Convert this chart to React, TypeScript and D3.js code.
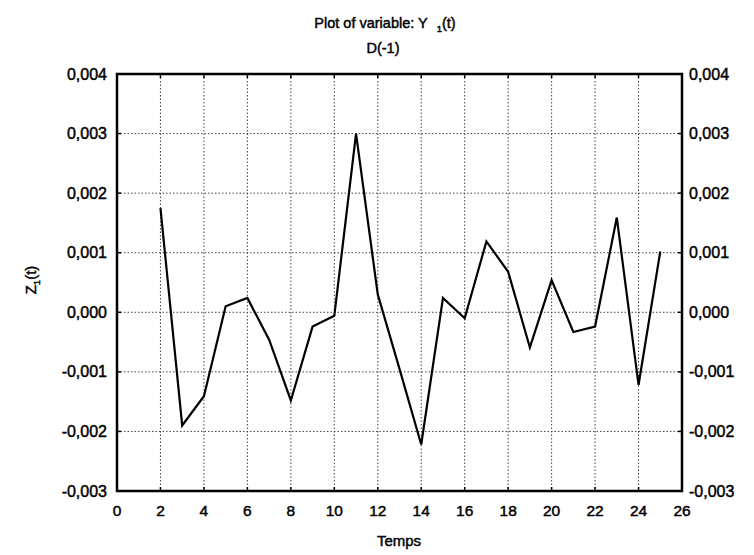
import React from "react";
import * as d3 from "d3";

const times = [2, 3, 4, 5, 6, 7, 8, 9, 10, 11, 12, 13, 14, 15, 16, 17, 18, 19, 20, 21, 22, 23, 24, 25];
const values = [0.00175, -0.0019, -0.00141, 0.0001, 0.00024, -0.00046, -0.00148, -0.00024, -0.00006, 0.003, 0.0003, -0.00095, -0.00222, 0.00024, -0.0001, 0.00119, 0.00068, -0.00059, 0.00054, -0.00033, -0.00024, 0.00159, -0.00122, 0.00102];
const xTicks = [0, 2, 4, 6, 8, 10, 12, 14, 16, 18, 20, 22, 24, 26];
const yTicks = [-0.003, -0.002, -0.001, 0, 0.001, 0.002, 0.003, 0.004];

const W = 754;
const H = 555;
const left = 117;
const right = 682;
const top = 74;
const bottom = 491;
const FONT = "'Liberation Sans', Arial, sans-serif";
const heavy = { stroke: "#000", strokeWidth: 0.45 };

export default function App() {
  const x = d3.scaleLinear().domain([0, 26]).range([left, right]);
  const y = d3.scaleLinear().domain([-0.003, 0.004]).range([bottom, top]);
  const fmt = (v: number) => d3.format(".3f")(v).replace("−", "-").replace(".", ",");
  const line = d3
    .line<number>()
    .x((_, i) => x(times[i]))
    .y((d) => y(d));

  return (
    <svg width={W} height={H} style={{ position: "absolute", left: 0, top: 0, background: "#fff" }}>
      <rect x={0} y={0} width={W} height={H} fill="#fff" />
      {xTicks.slice(1, -1).map((t) => (
        <line key={"gx" + t} x1={x(t)} x2={x(t)} y1={top} y2={bottom} stroke="#444" strokeWidth={1} strokeDasharray="1.5,2" />
      ))}
      {yTicks.slice(1, -1).map((t) => (
        <line key={"gy" + t} x1={left} x2={right} y1={y(t)} y2={y(t)} stroke="#444" strokeWidth={1} strokeDasharray="1.5,2" />
      ))}
      {xTicks.map((t) => (
        <g key={"tx" + t}>
          <line x1={x(t)} x2={x(t)} y1={bottom} y2={bottom - 4} stroke="#000" strokeWidth={1.5} />
          <line x1={x(t)} x2={x(t)} y1={top} y2={top + 4} stroke="#000" strokeWidth={1.5} />
          <text x={x(t)} y={bottom + 25} textAnchor="middle" fontFamily={FONT} fontSize={15.5} fill="#000" {...heavy}>
            {t}
          </text>
        </g>
      ))}
      {yTicks.map((t) => (
        <g key={"ty" + t}>
          <line x1={left} x2={left + 4} y1={y(t)} y2={y(t)} stroke="#000" strokeWidth={1.5} />
          <line x1={right} x2={right - 4} y1={y(t)} y2={y(t)} stroke="#000" strokeWidth={1.5} />
          <text x={107} y={y(t) + 5.5} textAnchor="end" fontFamily={FONT} fontSize={16} fill="#000" {...heavy}>
            {fmt(t)}
          </text>
          <text x={right + 7} y={y(t) + 5.5} textAnchor="start" fontFamily={FONT} fontSize={16} fill="#000" {...heavy}>
            {fmt(t)}
          </text>
        </g>
      ))}
      <rect x={left} y={top} width={right - left} height={bottom - top} fill="none" stroke="#000" strokeWidth={2.5} />
      <path d={line(values) || ""} fill="none" stroke="#000" strokeWidth={2.2} strokeLinejoin="miter" />
      <text x={385} y={28} textAnchor="middle" fontFamily={FONT} fontSize={14.5} fill="#000" {...heavy}>
        Plot of variable: Y
        <tspan dx={9} fontSize={9.5} dy={4}>1</tspan>
        <tspan dy={-4}>(t)</tspan>
      </text>
      <text x={383} y={53} textAnchor="middle" fontFamily={FONT} fontSize={14.5} fill="#000" {...heavy}>
        D(-1)
      </text>
      <text x={399} y={546} textAnchor="middle" fontFamily={FONT} fontSize={15} fill="#000" {...heavy}>
        Temps
      </text>
      <text transform={`translate(36,280) rotate(-90)`} textAnchor="middle" fontFamily={FONT} fontSize={15} fill="#000" {...heavy}>
        Z<tspan fontSize={9.5} dy={4}>1</tspan>
        <tspan dy={-4}>(t)</tspan>
      </text>
    </svg>
  );
}
